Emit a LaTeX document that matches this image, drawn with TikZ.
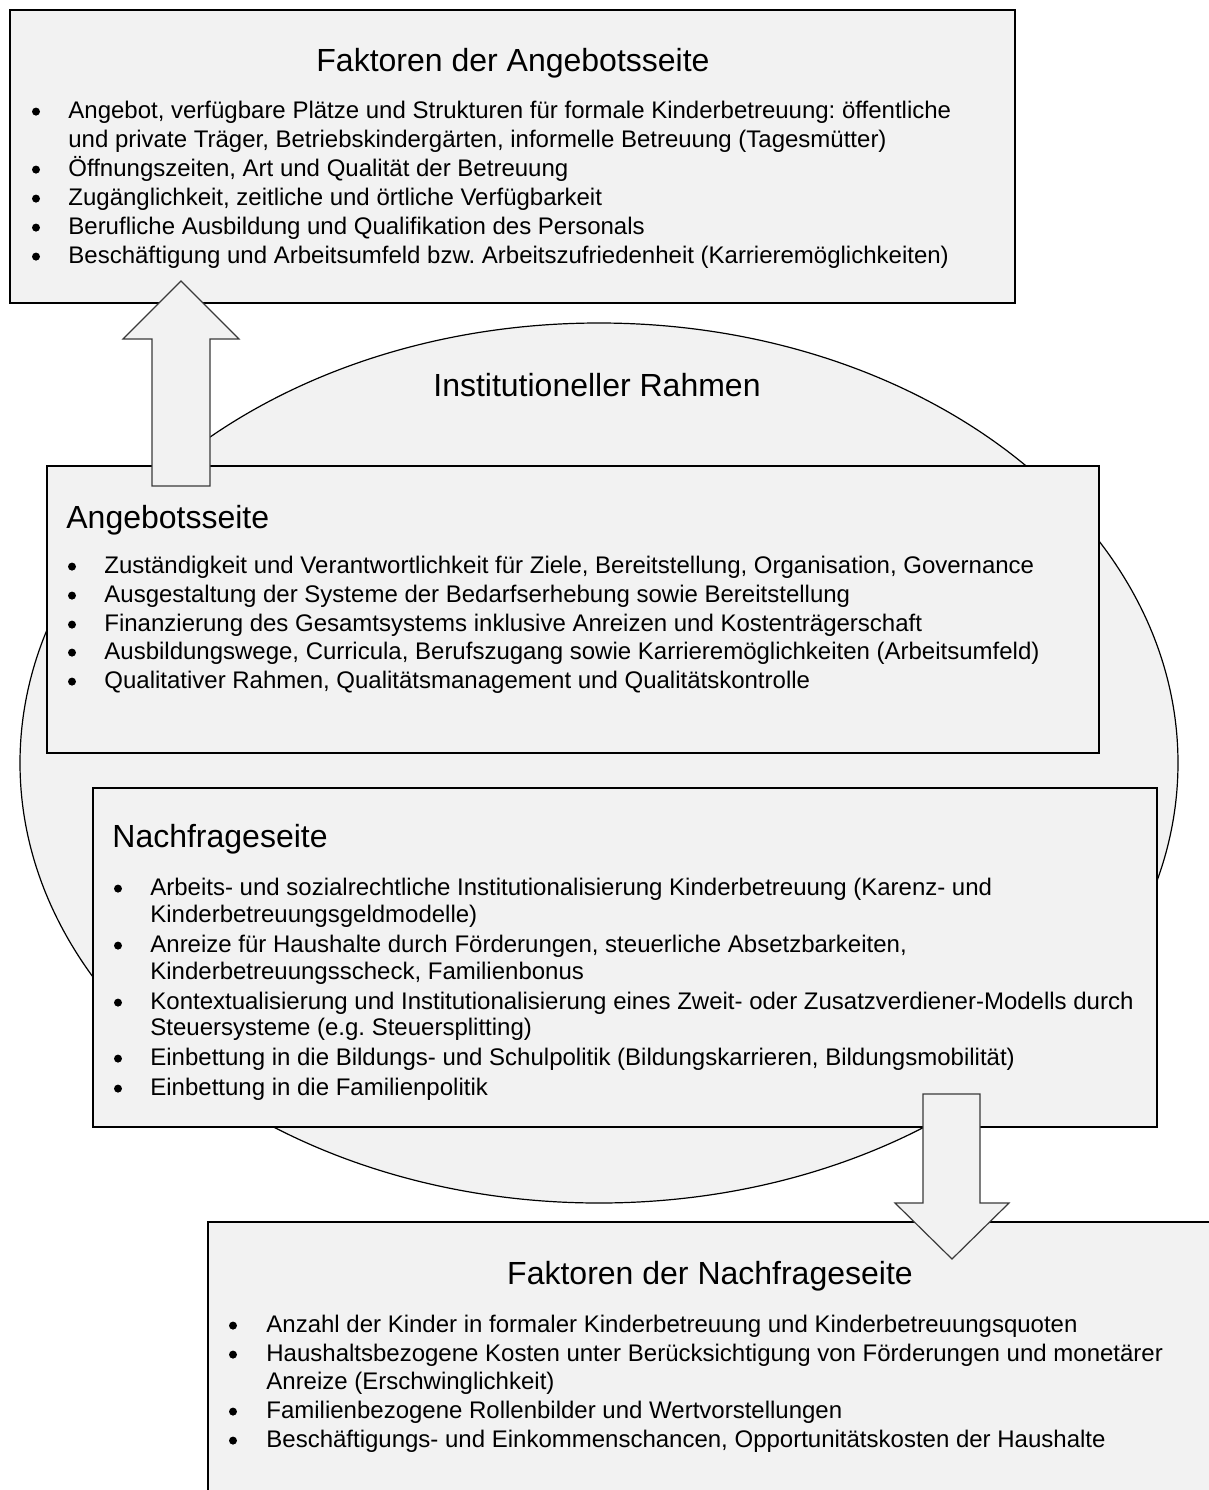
\documentclass[tikz,border=0pt]{standalone}
\usepackage{fontspec}
\setmainfont{Liberation Sans}
\frenchspacing
\definecolor{boxfill}{HTML}{F2F2F2}
\definecolor{arrowline}{HTML}{3A3A3A}
\begin{document}
\begin{tikzpicture}[x=0.5pt,y=-0.5pt,
  box/.style={draw=black,fill=boxfill,line width=0.6pt},
  blockarrow/.style={draw=arrowline,fill=boxfill,line width=0.6pt,line join=miter},
  txt/.style={font=\fontsize{12}{14}\selectfont,inner sep=0pt,anchor=base west},
  bul/.style={circle,fill=black,inner sep=0pt,minimum size=4pt,yshift=3.2pt},
  ttl/.style={font=\fontsize{16}{19}\selectfont,inner sep=0pt,anchor=base},
  ttlw/.style={font=\fontsize{16}{19}\selectfont,inner sep=0pt,anchor=base west}]
\useasboundingbox (0,0) rectangle (1209,1490);
\clip (0,0) rectangle (1209,1490);
% background shapes
\draw[box] (599,763) ellipse [x radius=579, y radius=440];
\draw[box] (10,10) rectangle (1015,303);
\draw[box] (47,466) rectangle (1099,753);
\draw[box] (93,788) rectangle (1157,1127);
\draw[box] (208,1222) rectangle (1212,1500);
% block arrows
\draw[blockarrow] (152,486) -- (152,339) -- (123,339) -- (181,281) -- (239,339) -- (210,339) -- (210,486) -- cycle;
\draw[blockarrow] (923,1094) -- (923,1203) -- (895,1203) -- (952,1259) -- (1009,1203) -- (980,1203) -- (980,1094) -- cycle;
% top box
\node[ttl] (t1) at (513,71) {Faktoren der Angebotsseite};
\node[bul] (t1b1) at (36,118) {};
\node[txt] (t1l1) at (68,118) {Angebot, verfügbare Plätze und Strukturen für formale Kinderbetreuung: öffentliche};
\node[txt] (t1l2) at (68,147) {und private Träger, Betriebskindergärten, informelle Betreuung (Tagesmütter)};
\node[bul] (t1b2) at (36,176) {};
\node[txt] (t1l3) at (68,176) {Öffnungszeiten, Art und Qualität der Betreuung};
\node[bul] (t1b3) at (36,205) {};
\node[txt] (t1l4) at (68,205) {Zugänglichkeit, zeitliche und örtliche Verfügbarkeit};
\node[bul] (t1b4) at (36,234) {};
\node[txt] (t1l5) at (68,234) {Berufliche Ausbildung und Qualifikation des Personals};
\node[bul] (t1b5) at (36,263) {};
\node[txt] (t1l6) at (68,263) {Beschäftigung und Arbeitsumfeld bzw. Arbeitszufriedenheit (Karrieremöglichkeiten)};
% ellipse title
\node[ttl] (rahmen) at (597,396) {Institutioneller Rahmen};
% Angebotsseite
\node[ttlw] (t2) at (66,528) {Angebotsseite};
\node[bul] (t2b1) at (72,573) {};
\node[txt] (t2l1) at (104,573) {Zuständigkeit und Verantwortlichkeit für Ziele, Bereitstellung, Organisation, Governance};
\node[bul] (t2b2) at (72,602) {};
\node[txt] (t2l2) at (104,602) {Ausgestaltung der Systeme der Bedarfserhebung sowie Bereitstellung};
\node[bul] (t2b3) at (72,631) {};
\node[txt] (t2l3) at (104,631) {Finanzierung des Gesamtsystems inklusive Anreizen und Kostenträgerschaft};
\node[bul] (t2b4) at (72,659) {};
\node[txt] (t2l4) at (104,659) {Ausbildungswege, Curricula, Berufszugang sowie Karrieremöglichkeiten (Arbeitsumfeld)};
\node[bul] (t2b5) at (72,688) {};
\node[txt] (t2l5) at (104,688) {Qualitativer Rahmen, Qualitätsmanagement und Qualitätskontrolle};
% Nachfrageseite
\node[ttlw] (t3) at (112,847) {Nachfrageseite};
\node[bul] (t3b1) at (118,895) {};
\node[txt] (t3l1) at (150,895) {Arbeits- und sozialrechtliche Institutionalisierung Kinderbetreuung (Karenz- und};
\node[txt] (t3l2) at (150,922) {Kinderbetreuungsgeldmodelle)};
\node[bul] (t3b2) at (118,952) {};
\node[txt] (t3l3) at (150,952) {Anreize für Haushalte durch Förderungen, steuerliche Absetzbarkeiten,};
\node[txt] (t3l4) at (150,979) {Kinderbetreuungsscheck, Familienbonus};
\node[bul] (t3b3) at (118,1009) {};
\node[txt] (t3l5) at (150,1009) {Kontextualisierung und Institutionalisierung eines Zweit- oder Zusatzverdiener-Modells durch};
\node[txt] (t3l6) at (150,1035) {Steuersysteme (e.g. Steuersplitting)};
\node[bul] (t3b4) at (118,1065) {};
\node[txt] (t3l7) at (150,1065) {Einbettung in die Bildungs- und Schulpolitik (Bildungskarrieren, Bildungsmobilität)};
\node[bul] (t3b5) at (118,1095) {};
\node[txt] (t3l8) at (150,1095) {Einbettung in die Familienpolitik};
% bottom box
\node[ttl] (t4) at (710,1284) {Faktoren der Nachfrageseite};
\node[bul] (t4b1) at (233,1332) {};
\node[txt] (t4l1) at (266,1332) {Anzahl der Kinder in formaler Kinderbetreuung und Kinderbetreuungsquoten};
\node[bul] (t4b2) at (233,1361) {};
\node[txt] (t4l2) at (266,1361) {Haushaltsbezogene Kosten unter Berücksichtigung von Förderungen und monetärer};
\node[txt] (t4l3) at (266,1389) {Anreize (Erschwinglichkeit)};
\node[bul] (t4b3) at (233,1418) {};
\node[txt] (t4l4) at (266,1418) {Familienbezogene Rollenbilder und Wertvorstellungen};
\node[bul] (t4b4) at (233,1447) {};
\node[txt] (t4l5) at (266,1447) {Beschäftigungs- und Einkommenschancen, Opportunitätskosten der Haushalte};
\end{tikzpicture}
\end{document}
